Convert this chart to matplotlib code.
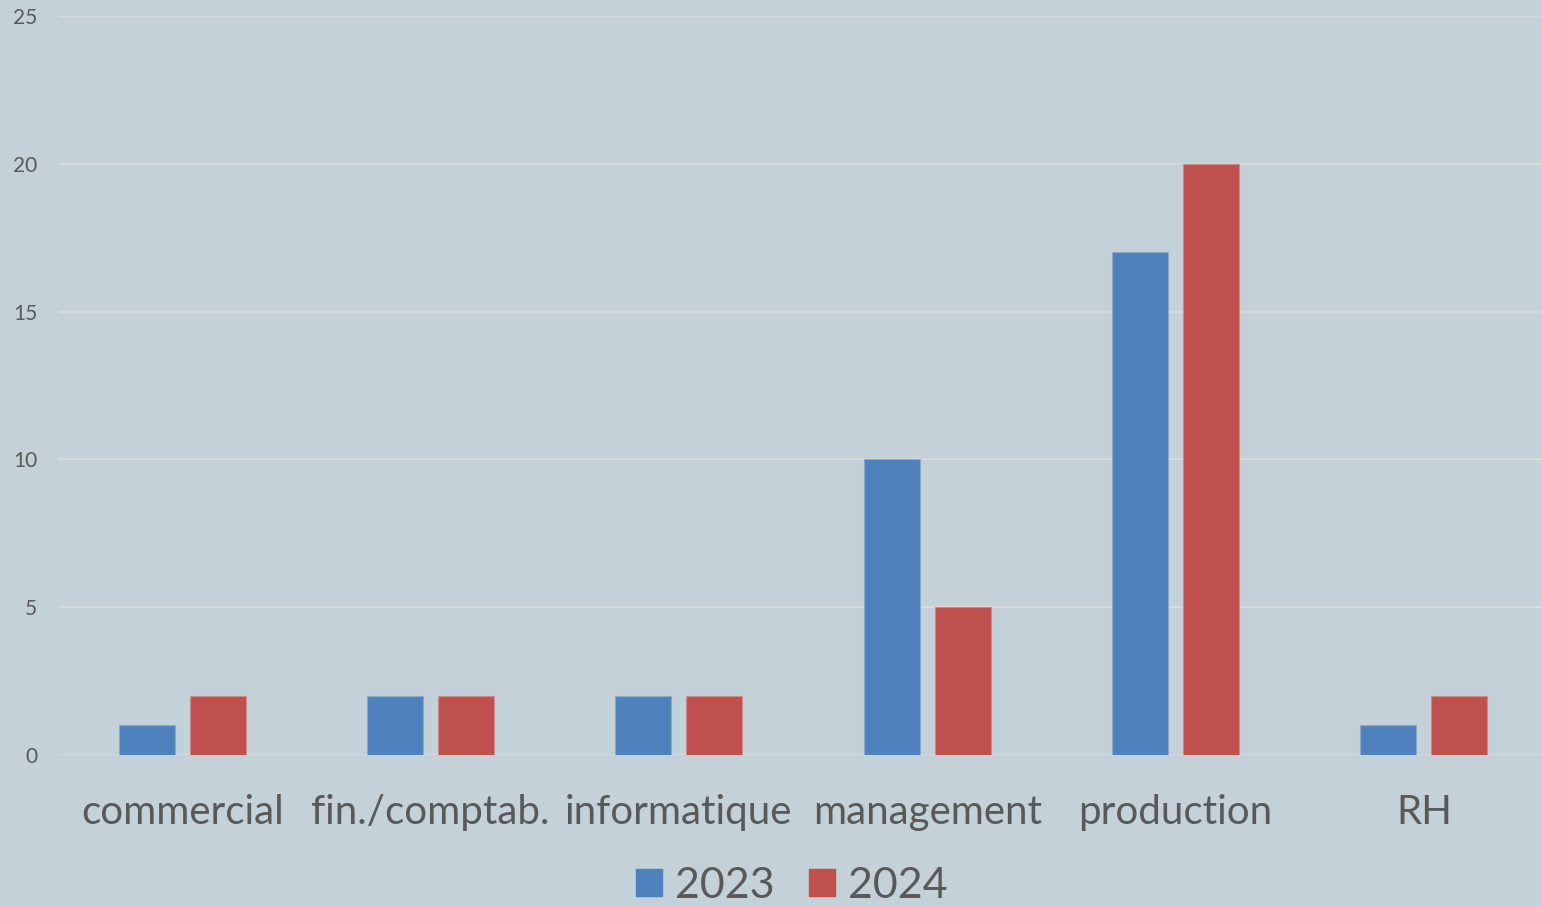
import numpy as np
import matplotlib
matplotlib.use('Agg')
import matplotlib.pyplot as plt
from matplotlib.patches import Patch

categories = ['commercial', 'fin./comptab.', 'informatique', 'management', 'production', 'RH']
values2023 = [1, 2, 2, 10, 17, 1]
values2024 = [2, 2, 2, 5, 20, 2]
seriesNames = ['2023', '2024']

bg = '#C5D1D8'
textColor = '#595959'
plt.rcParams['font.family'] = ['Lato', 'DejaVu Sans']

fig = plt.figure(figsize=(15.42, 9.07), dpi=100, facecolor=bg)
ax = fig.add_axes([58 / 1542, 152 / 907, 1490 / 1542, (755 - 16) / 907])
ax.set_facecolor(bg)

x = np.arange(len(categories))
w = 0.225
off = 0.143
ax.bar(x - off, values2023, w, color='#4F81BD', edgecolor='#8FA9C8', linewidth=0.8, zorder=3)
ax.bar(x + off, values2024, w, color='#C0504D', edgecolor='#C98A88', linewidth=0.8, zorder=3)

ax.set_xlim(-0.5, len(categories) - 0.5)
ax.set_ylim(0, 25)
ax.set_yticks([0, 5, 10, 15, 20, 25])
ax.yaxis.grid(True, color='#D9D9D9', linewidth=1.5, zorder=0)
ax.set_axisbelow(True)
for s in ax.spines.values():
    s.set_visible(False)
ax.axhline(0, color='#D9D9D9', linewidth=2, zorder=2)

ax.set_xticks(x)
ax.set_xticklabels(categories, fontsize=29, color=textColor)
ax.tick_params(axis='x', length=0, pad=28)
ax.tick_params(axis='y', length=0, pad=15, labelsize=15, labelcolor=textColor)

handles = [Patch(color='#4F81BD'), Patch(color='#C0504D')]
fig.legend(handles, seriesNames, loc='center', bbox_to_anchor=(792 / 1542, 21 / 907),
           ncol=2, frameon=False, fontsize=31, labelcolor=textColor,
           handlelength=0.6, handleheight=0.6, handletextpad=0.3, columnspacing=0.8)

fig.savefig('out.png', dpi=100, facecolor=bg)
